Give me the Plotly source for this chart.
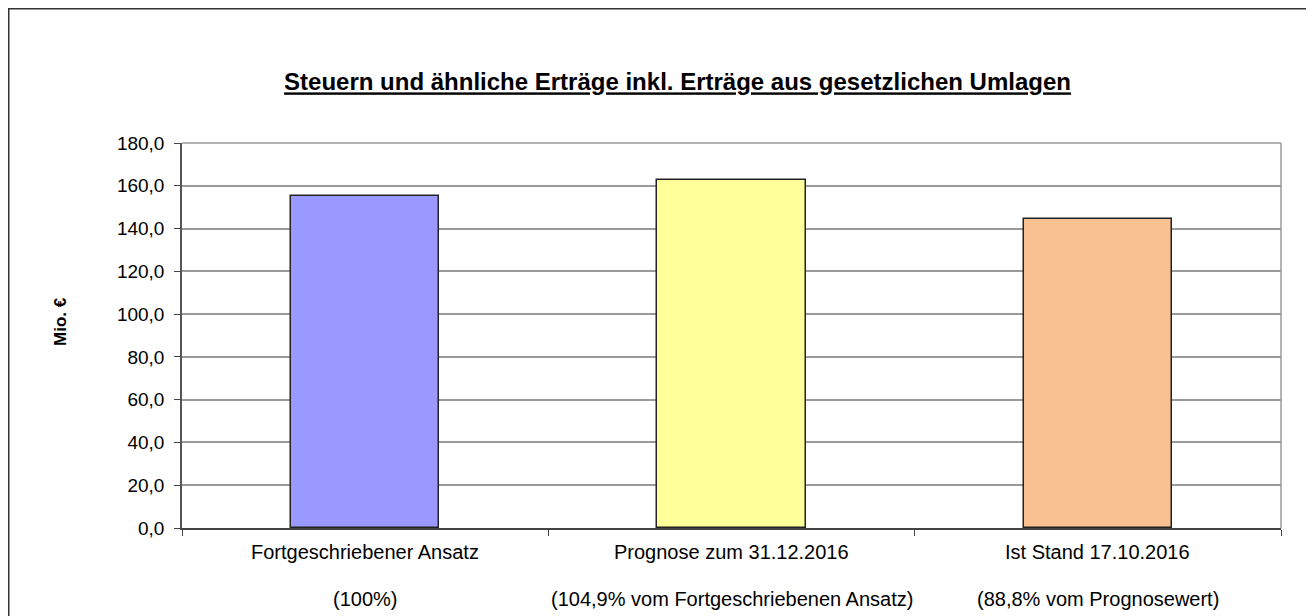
import plotly.graph_objects as go

categories = ["Fortgeschriebener Ansatz", "Prognose zum 31.12.2016", "Ist Stand 17.10.2016"]
subtitles = ["(100%)", "(104,9% vom Fortgeschriebenen Ansatz)", "(88,8% vom Prognosewert)"]
values = [155.0, 162.6, 144.4]
colors = ["#9999FF", "#FFFF99", "#F9C191"]
ytick_vals = [0, 20, 40, 60, 80, 100, 120, 140, 160, 180]

xpos = list(range(len(categories)))

W, H = 1306, 608
L, R, T, B = 174, 33, 135, 88
PW, PH = W - L - R, H - T - B

fig = go.Figure()
fig.add_trace(go.Bar(
    x=xpos, y=values, width=0.405,
    marker=dict(color=colors, line=dict(color="#222222", width=1.5)),
    hoverinfo="skip",
))

font = "Liberation Sans, Arial, sans-serif"

annotations = []
for i, (c, s) in enumerate(zip(categories, subtitles)):
    annotations.append(dict(x=i, y=-24 / PH, xref="x", yref="paper", yanchor="middle", xanchor="center",
                            text=c, showarrow=False, font=dict(family=font, size=20, color="#000")))
    annotations.append(dict(x=i, y=-71 / PH, xref="x", yref="paper", yanchor="middle", xanchor="center",
                            text=s, showarrow=False, font=dict(family=font, size=20, color="#000")))

annotations.append(dict(x=-122 / PW, y=206 / PH, xref="paper", yref="paper", textangle=-90,
                        text="<b>Mio. €</b>", showarrow=False, xanchor="center", yanchor="middle",
                        font=dict(family=font, size=17, color="#000")))

fig.update_layout(
    width=W, height=H,
    margin=dict(l=L, r=R, t=T, b=B),
    paper_bgcolor="white", plot_bgcolor="white",
    separators=",.",
    showlegend=False,
    bargap=0,
    title=dict(text="<b><u>Steuern und ähnliche Erträge inkl. Erträge aus gesetzlichen Umlagen</u></b>",
               x=669.5 / W, xanchor="center", y=1 - 74 / H, yanchor="middle",
               font=dict(family=font, size=24, color="#000")),
    xaxis=dict(range=[-0.5, 2.5], tickvals=[-0.5, 0.5, 1.5, 2.5], showticklabels=False,
               ticks="outside", ticklen=6, tickcolor="#444", showgrid=False, zeroline=False,
               showline=True, linecolor="#444", linewidth=1.5, mirror=False, fixedrange=True),
    yaxis=dict(range=[0, 180], tickvals=ytick_vals, tickformat=".1f", ticks="outside", ticklen=6,
               tickcolor="#444", showgrid=True, gridcolor="#9a9a9a", gridwidth=1.5, zeroline=False,
               showline=True, linecolor="#555", linewidth=1.5, ticklabelstandoff=6,
               tickfont=dict(family=font, size=19, color="#000"), fixedrange=True),
    annotations=annotations,
    shapes=[
        # outer chart frame
        dict(type="rect", xref="paper", yref="paper",
             x0=(0.75 - L) / PW, x1=(1302 - L) / PW,
             y0=(PH + T - 640) / PH, y1=(PH + T - 0.75) / PH,
             line=dict(color="#333", width=1.5), layer="below"),
        # plot area right and top border
        dict(type="line", xref="paper", yref="paper", x0=1, x1=1, y0=0, y1=1,
             line=dict(color="#9a9a9a", width=1.5)),
        dict(type="line", xref="paper", yref="paper", x0=0, x1=1, y0=1, y1=1,
             line=dict(color="#9a9a9a", width=1.5)),
    ],
)

fig.write_html("out.html")
